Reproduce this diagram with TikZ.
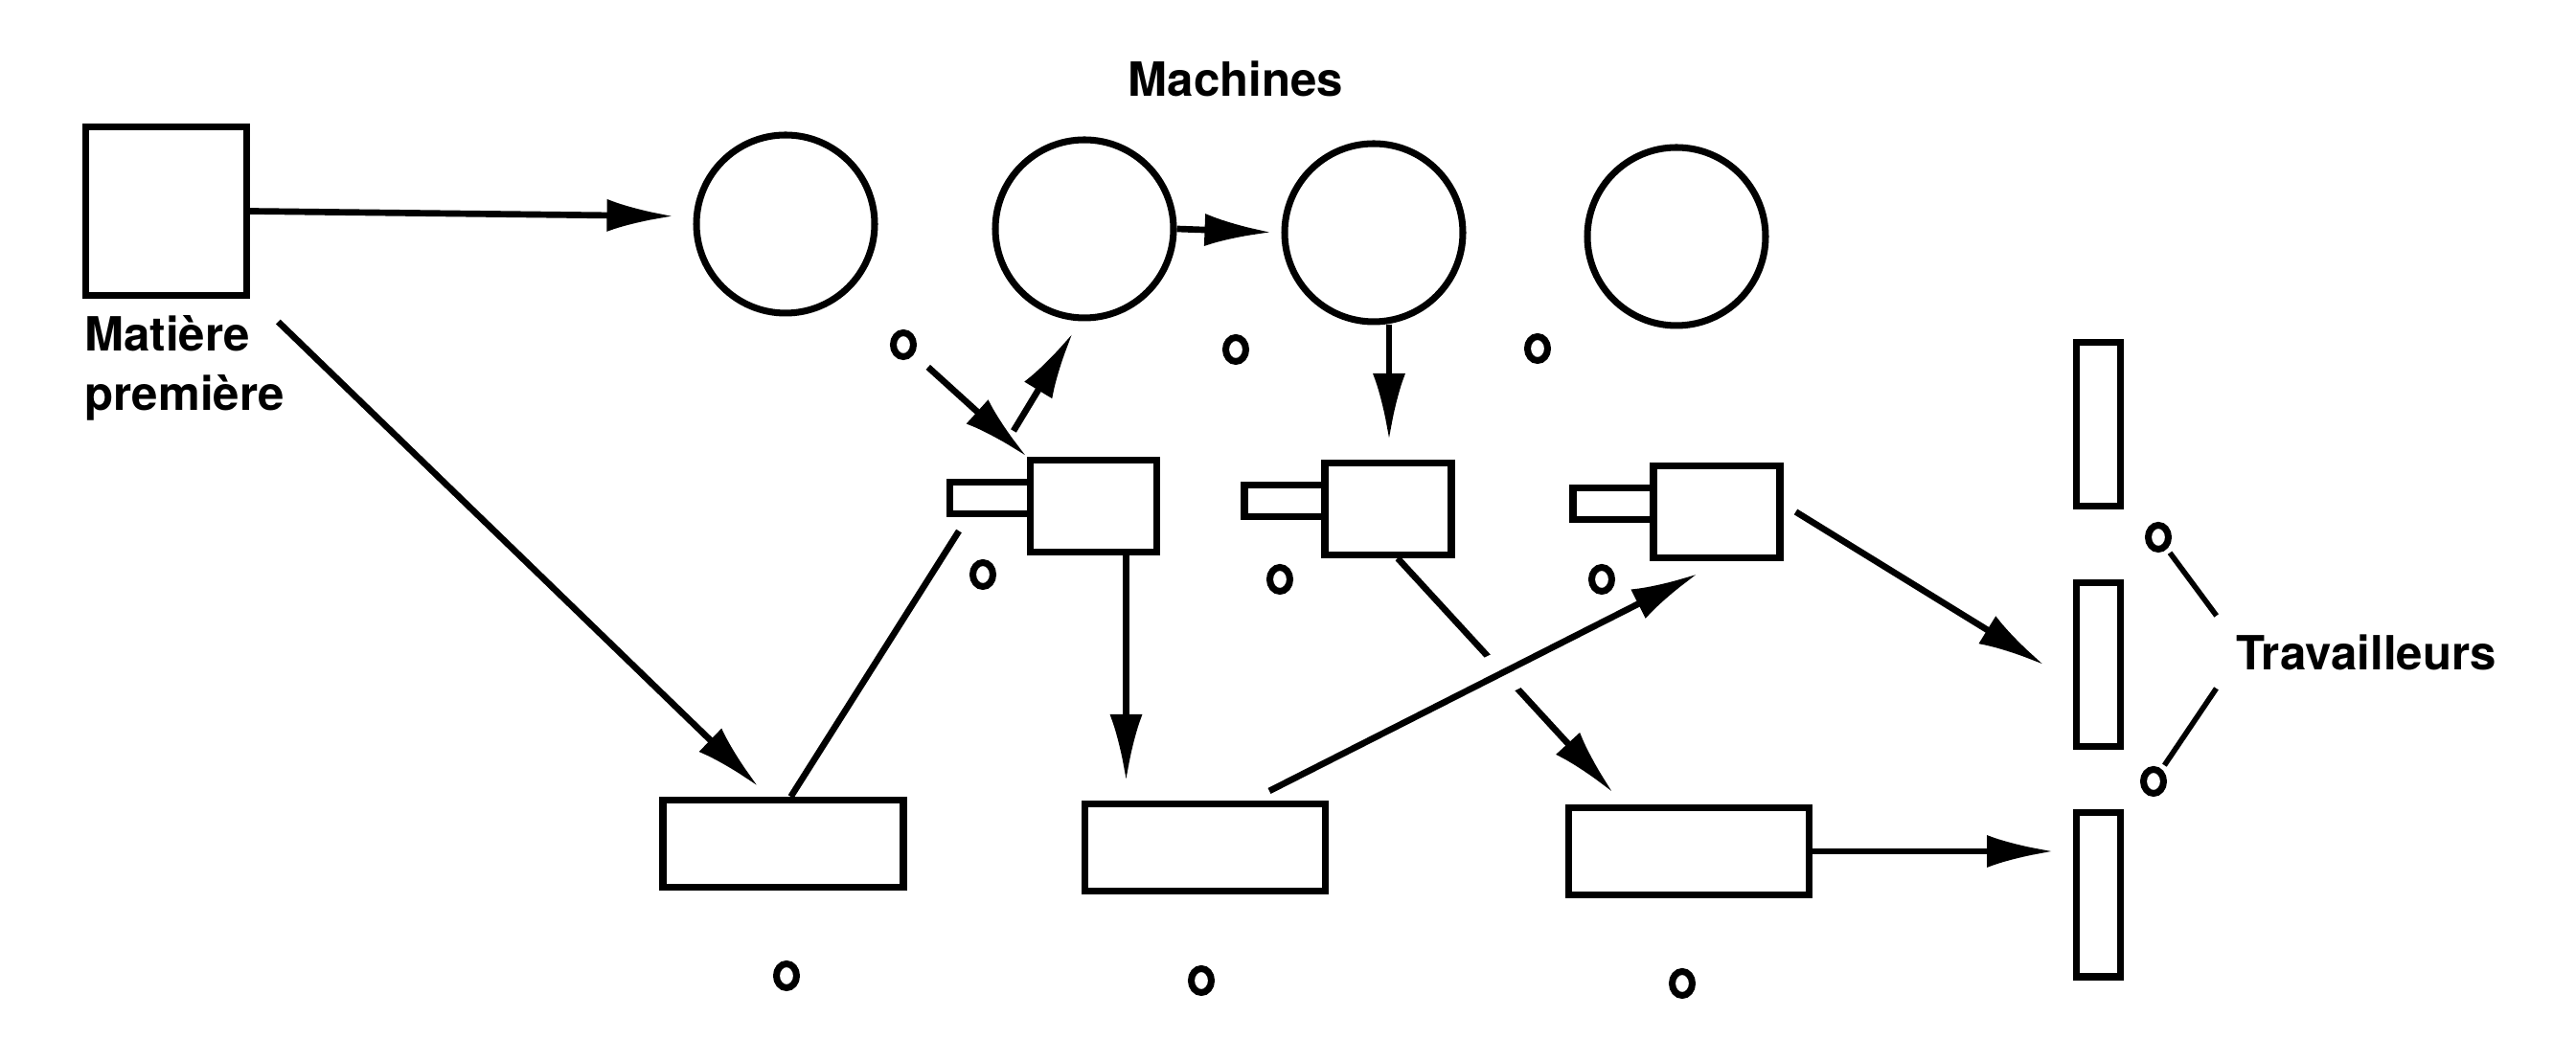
\documentclass[tikz,border=0pt]{standalone}
\usepackage{fontspec}
\setmainfont{TeX Gyre Heros}
\usetikzlibrary{arrows.meta,shapes.geometric}

\begin{document}
\begin{tikzpicture}[
   line width=2pt,
   machine/.style={circle, draw, minimum size=1.86cm, inner sep=0},
   head/.style={rectangle, draw, minimum width=1.32cm, minimum height=0.96cm},
   shaft/.style={rectangle, draw, minimum width=0.84cm, minimum height=0.33cm, inner sep=0},
   poste/.style={rectangle, draw, minimum width=2.51cm, minimum height=0.91cm},
   worker/.style={rectangle, draw, minimum width=0.46cm, minimum height=1.71cm, inner sep=0},
   dot/.style={ellipse, draw, line width=2pt, minimum width=0.21cm, minimum height=0.25cm, inner sep=0},
   arr/.style={-{Latex[length=7mm,width=3.4mm]}, line width=1.9pt},
   lbl/.style={font=\fontsize{14}{17.6}\selectfont\bfseries, inner sep=0}
]
   \useasboundingbox (0,0) rectangle (26.89,11.09);

   \node[rectangle, draw, minimum width=1.68cm, minimum height=1.76cm] (mat) at (1.735,8.885) {};
   \node[lbl, anchor=north west, align=left] (lab) at (0.85,7.83) {Matière\\première};
   \node[lbl] (mach) at (12.90,10.27) {Machines};
   \node[lbl, inner sep=2mm] (trav) at (24.70,4.28) {Travailleurs};

   \node[machine] (c1) at (8.20,8.75) {};
   \node[machine] (c2) at (11.32,8.70) {};
   \node[machine] (c3) at (14.34,8.66) {};
   \node[machine] (c4) at (17.50,8.62) {};

   \node[head] (h1) at (11.415,5.805) {};
   \node[head] (h2) at (14.49,5.775) {};
   \node[head] (h3) at (17.92,5.745) {};
   \node[shaft, anchor=east] (s1) at ([xshift=2pt,yshift=0.8mm]h1.west) {};
   \node[shaft, anchor=east] (s2) at ([xshift=2pt,yshift=0.8mm]h2.west) {};
   \node[shaft, anchor=east] (s3) at ([xshift=2pt,yshift=0.8mm]h3.west) {};

   \node[poste] (r1) at (8.175,2.28) {};
   \node[poste] (r2) at (12.58,2.24) {};
   \node[poste] (r3) at (17.63,2.20) {};

   \node[worker] (w1) at (21.905,6.66) {};
   \node[worker] (w2) at (21.905,4.145) {};
   \node[worker] (w3) at (21.905,1.745) {};

   \node[dot] (d1) at (9.43,7.49) {};
   \node[dot] (d2) at (12.90,7.44) {};
   \node[dot] (d3) at (16.05,7.45) {};
   \node[dot] (d4) at (10.26,5.09) {};
   \node[dot] (d5) at (13.36,5.04) {};
   \node[dot] (d6) at (16.72,5.04) {};
   \node[dot] (d7) at (8.21,0.90) {};
   \node[dot] (d8) at (12.54,0.85) {};
   \node[dot] (d9) at (17.56,0.82) {};
   \node[dot] (d10) at (22.53,5.48) {};
   \node[dot] (d11) at (22.48,2.93) {};

   \draw[arr, shorten >=2mm] (mat.east) -- ([yshift=0.8mm]c1.west);
   \draw[arr, shorten >=1mm] (c2.east) -- (c3.west);
   \draw[arr, shorten >=2mm] ([xshift=1.6mm]c3.south) -- ([xshift=1.6mm]c3.south |- h2.north);
   \draw[arr, shorten <=2mm] (d1) -- (h1.north west);
   \draw[arr] ([shift={(-1.4mm,2.7mm)}]h1.north west) -- ([shift={(-1.2mm,-1.2mm)}]c2.south);
   \draw[arr, shorten >=1.5mm] ([shift={(-1mm,-1mm)}]lab.north east) -- ([xshift=-1.5mm]r1.north);
   \draw[line width=1.9pt] ([xshift=0.8mm]r1.north) -- ([shift={(1.3mm,-1.4mm)}]s1.south west);
   \draw[arr, shorten >=2mm] ([xshift=3.4mm]h1.south) -- ([xshift=3.4mm]h1.south |- r2.north);
   \draw[arr] ([xshift=1mm]h2.south) -- ([shift={(5mm,1.2mm)}]r3.north west);
   \draw[arr, preaction={draw=white, -, line width=4.5mm, shorten <=2.3cm, shorten >=1.8cm}]
        ([shift={(-6.2mm,1mm)}]r2.north east) -- ([shift={(5mm,-1.3mm)}]h3.south west);
   \draw[arr] ([xshift=1.3mm]h3.east) -- ([xshift=-3mm]w2.west);
   \draw[arr, shorten >=2mm] (r3.east) -- (r3.east -| w3.west);

   \draw[line width=1.6pt, shorten <=0.5mm, shorten >=-0.5mm] (d10) -- (trav.north west);
   \draw[line width=1.6pt, shorten <=-0.5mm, shorten >=0.5mm] (trav.south west) -- (d11);
\end{tikzpicture}
\end{document}
